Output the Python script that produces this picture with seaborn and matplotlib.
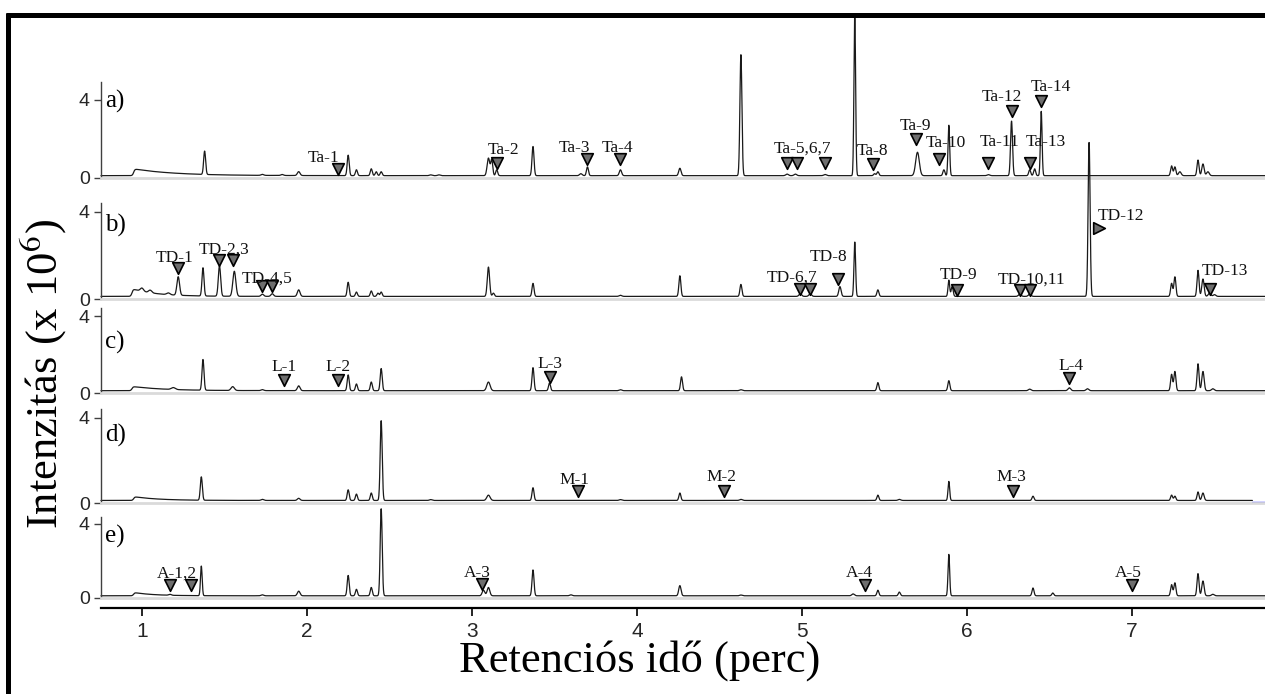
import numpy as np
import pandas as pd
import matplotlib
matplotlib.use("Agg")
import matplotlib.pyplot as plt
from matplotlib.lines import Line2D
import seaborn as sns

# ------------------------------------------------------------------ data
x_ticks = [1, 2, 3, 4, 5, 6, 7]
y_ticks = [0, 4]
panel_letters = ["a)", "b)", "c)", "d)", "e)"]
x_label = "Retenciós idő (perc)"
y_label = r"Intenzitás (x 10$^{6}$)"
baseline_level = 0.12

# panel a) peaks: retention time (min), height (x10^6), width (min)
a_rt = [1.38, 1.73, 1.85, 1.95, 2.25, 2.30, 2.39, 2.42, 2.45, 2.75,
        2.80, 3.10, 3.12, 3.15, 3.37, 3.66, 3.70, 3.90, 4.26, 4.63,
        4.91, 4.96, 5.14, 5.32, 5.44, 5.46, 5.70, 5.86, 5.89, 6.13,
        6.27, 6.38, 6.41, 6.45, 7.24, 7.26, 7.29, 7.40, 7.43, 7.46]
a_h = [1.20, 0.05, 0.05, 0.20, 1.05, 0.30, 0.35, 0.20, 0.20, 0.04,
       0.04, 0.90, 0.80, 0.30, 1.50, 0.10, 0.45, 0.30, 0.38, 6.20,
       0.08, 0.08, 0.06, 8.30, 0.10, 0.20, 1.20, 0.30, 2.60, 0.05,
       2.80, 0.30, 0.35, 3.30, 0.50, 0.45, 0.20, 0.80, 0.60, 0.20]
a_w = [.006, .008, .008, .008, .006, .006, .006, .006, .006, .008,
       .008, .008, .006, .006, .006, .008, .006, .007, .007, .006,
       .008, .008, .008, .005, .006, .006, .011, .006, .005, .008,
       .006, .006, .006, .005, .006, .006, .008, .006, .007, .008]
a_hump = [0.95, 0.35, 0.25]

b_rt = [1.00, 1.05, 1.16, 1.22, 1.37, 1.47, 1.56, 1.73, 1.79, 1.95,
        2.25, 2.30, 2.39, 2.43, 2.45, 3.10, 3.13, 3.37, 3.90, 4.26,
        4.63, 4.99, 5.05, 5.23, 5.32, 5.46, 5.89, 5.91, 6.32, 6.38,
        6.74, 7.24, 7.26, 7.40, 7.43, 7.47, 7.50]
b_h = [0.15, 0.12, 0.08, 0.85, 1.30, 1.40, 1.15, 0.10, 0.12, 0.30,
       0.65, 0.20, 0.25, 0.15, 0.20, 1.35, 0.15, 0.60, 0.05, 0.95,
       0.55, 0.12, 0.12, 0.45, 2.50, 0.30, 0.75, 0.45, 0.10, 0.10,
       7.10, 0.60, 0.90, 1.20, 0.80, 0.15, 0.08]
b_w = [.010, .010, .010, .008, .006, .007, .009, .008, .008, .008,
       .006, .006, .006, .006, .006, .007, .006, .006, .008, .006,
       .006, .008, .008, .007, .005, .006, .005, .006, .008, .008,
       .006, .006, .006, .006, .007, .008, .008]
b_hump = [0.94, 0.35, 0.15]

c_rt = [1.19, 1.37, 1.55, 1.73, 1.95, 2.25, 2.30, 2.39, 2.45, 3.10,
        3.37, 3.47, 3.90, 4.27, 4.63, 5.46, 5.89, 6.38, 6.62, 6.73,
        7.24, 7.26, 7.40, 7.43, 7.49]
c_h = [0.10, 1.60, 0.20, 0.05, 0.25, 0.82, 0.35, 0.45, 1.15, 0.45,
       1.20, 0.40, 0.05, 0.72, 0.05, 0.42, 0.52, 0.08, 0.15, 0.10,
       0.85, 1.00, 1.40, 1.00, 0.10]
c_w = [.012, .006, .010, .008, .008, .006, .006, .006, .006, .010,
       .006, .006, .008, .006, .008, .006, .006, .008, .008, .008,
       .006, .006, .006, .007, .008]
c_hump = [0.94, 0.22, 0.20]

d_rt = [1.36, 1.73, 1.95, 2.25, 2.30, 2.39, 2.45, 2.75, 3.10, 3.37,
        3.90, 4.26, 4.63, 5.46, 5.59, 5.89, 6.40, 7.24, 7.26, 7.40,
        7.43]
d_h = [1.10, 0.05, 0.10, 0.50, 0.30, 0.35, 3.75, 0.04, 0.25, 0.60,
       0.04, 0.35, 0.05, 0.25, 0.05, 0.90, 0.20, 0.25, 0.20, 0.40,
       0.35]
d_w = [.006, .008, .008, .006, .006, .006, .006, .008, .010, .006,
       .008, .006, .008, .006, .008, .005, .006, .006, .006, .006,
       .007]
d_hump = [0.95, 0.18, 0.15]
d_blue_rt = [7.73, 7.806]
d_blue_val = [0.06, 0.06]

e_rt = [1.17, 1.36, 1.73, 1.95, 2.25, 2.30, 2.39, 2.45, 3.07, 3.10,
        3.37, 3.60, 4.26, 4.63, 5.31, 5.46, 5.59, 5.89, 6.40, 6.52,
        7.24, 7.26, 7.40, 7.43, 7.49]
e_h = [0.05, 1.60, 0.05, 0.25, 1.10, 0.35, 0.45, 4.70, 0.30, 0.45,
       1.40, 0.05, 0.55, 0.04, 0.10, 0.30, 0.20, 2.25, 0.42, 0.15,
       0.60, 0.70, 1.20, 0.80, 0.08]
e_w = [.008, .005, .008, .008, .006, .006, .006, .006, .008, .008,
       .006, .008, .007, .008, .008, .006, .006, .005, .006, .006,
       .006, .006, .006, .007, .008]
e_hump = [0.95, 0.18, 0.12]

# annotations: labels (text position) and triangle markers
a_lab = ["Ta-1", "Ta-2", "Ta-3", "Ta-4", "Ta-5,6,7", "Ta-8", "Ta-9",
         "Ta-10", "Ta-11", "Ta-12", "Ta-13", "Ta-14"]
a_lab_rt = [2.10, 3.19, 3.62, 3.88, 5.00, 5.43, 5.69, 5.87, 6.20, 6.21, 6.48, 6.51]
a_lab_y = [1.04, 1.45, 1.53, 1.53, 1.53, 1.40, 2.65, 1.78, 1.83, 4.16, 1.83, 4.66]
a_tri_rt = [2.19, 3.15, 3.70, 3.90, 4.91, 4.97, 5.14, 5.43, 5.69, 5.83, 6.13, 6.27, 6.38, 6.45]
a_tri_y = [0.46, 0.76, 1.00, 1.00, 0.76, 0.76, 0.76, 0.70, 1.98, 0.99, 0.79, 3.46, 0.76, 3.97]

b_lab = ["TD-1", "TD-2,3", "TD-4,5", "TD-6,7", "TD-8", "TD-9", "TD-10,11", "TD-12", "TD-13"]
b_lab_rt = [1.20, 1.50, 1.76, 4.94, 5.16, 5.95, 6.39, 6.93, 7.56]
b_lab_y = [1.87, 2.26, 0.93, 0.97, 1.92, 1.12, 0.89, 3.80, 1.28]
b_tri_rt = [1.22, 1.47, 1.55, 1.73, 1.79, 4.99, 5.05, 5.22, 5.94, 6.32, 6.38, 7.47]
b_tri_y = [1.42, 1.80, 1.80, 0.60, 0.60, 0.45, 0.45, 0.93, 0.41, 0.41, 0.41, 0.48]
b_rtri_rt = [6.80]
b_rtri_y = [3.25]

c_lab = ["L-1", "L-2", "L-3", "L-4"]
c_lab_rt = [1.86, 2.19, 3.47, 6.63]
c_lab_y = [1.37, 1.37, 1.50, 1.42]
c_tri_rt = [1.86, 2.19, 3.47, 6.62]
c_tri_y = [0.69, 0.65, 0.85, 0.77]

d_lab = ["M-1", "M-2", "M-3"]
d_lab_rt = [3.62, 4.51, 6.27]
d_lab_y = [1.09, 1.24, 1.24]
d_tri_rt = [3.64, 4.53, 6.28]
d_tri_y = [0.57, 0.57, 0.57]

e_lab = ["A-1,2", "A-3", "A-4", "A-5"]
e_lab_rt = [1.21, 3.03, 5.35, 6.98]
e_lab_y = [1.30, 1.36, 1.36, 1.36]
e_tri_rt = [1.17, 1.30, 3.06, 5.38, 7.00]
e_tri_y = [0.72, 0.72, 0.77, 0.72, 0.72]

# ------------------------------------------------------------------ style
sns.set_theme(style="white")
plt.rcParams["font.family"] = ["Liberation Serif", "DejaVu Serif"]
plt.rcParams["mathtext.fontset"] = "stix"

W, H = 1265, 694
fig = plt.figure(figsize=(W / 100, H / 100), dpi=100)
fig.patch.set_facecolor("white")


def fx(px):
    return px / W


def fy(py):
    return 1 - py / H


xlim = (0.752, 7.806)
left_px, right_px = 101, 1265
zero_px = [178, 299, 393, 503, 598]
four_px = [100, 212, 316, 418, 524]
top_val = [4.9, 4.4, 4.4, 4.4, 4.4]
letter_y = [3.9, 3.4, 2.6, 3.2, 3.3]

t = np.linspace(xlim[0], xlim[1], 6000)


def build_trace(rt, h, w, hump):
    y = np.full_like(t, baseline_level)
    for r, hh, ww in zip(rt, h, w):
        y += hh * np.exp(-0.5 * ((t - r) / ww) ** 2)
    t0, hh, tau = hump
    rise = 1.0 / (1.0 + np.exp(-(t - t0) / 0.004))
    y += hh * rise * np.exp(-np.clip(t - t0, 0, None) / tau)
    return y


panels = [
    (a_rt, a_h, a_w, a_hump, a_lab, a_lab_rt, a_lab_y, a_tri_rt, a_tri_y),
    (b_rt, b_h, b_w, b_hump, b_lab, b_lab_rt, b_lab_y, b_tri_rt, b_tri_y),
    (c_rt, c_h, c_w, c_hump, c_lab, c_lab_rt, c_lab_y, c_tri_rt, c_tri_y),
    (d_rt, d_h, d_w, d_hump, d_lab, d_lab_rt, d_lab_y, d_tri_rt, d_tri_y),
    (e_rt, e_h, e_w, e_hump, e_lab, e_lab_rt, e_lab_y, e_tri_rt, e_tri_y),
]

tick_font = {"family": ["Liberation Sans", "DejaVu Sans"], "size": 14}

for i, (rt, h, w, hump, labs, lrt, ly, trt, ty) in enumerate(panels):
    ppu = (zero_px[i] - four_px[i]) / 4.0
    height_px = top_val[i] * ppu
    ax = fig.add_axes([fx(left_px), fy(zero_px[i]), fx(right_px) - fx(left_px), height_px / H])
    ax.patch.set_alpha(0)
    ax.set_xlim(xlim)
    ax.set_ylim(0, top_val[i])

    y = build_trace(rt, h, w, hump)
    if i == 3:
        mask = t <= d_blue_rt[0]
    else:
        mask = np.ones_like(t, dtype=bool)
    df = pd.DataFrame({"rt": t[mask], "val": y[mask]})
    sns.lineplot(data=df, x="rt", y="val", ax=ax, color="#1a1a1a", lw=0.9,
                 estimator=None, sort=False)
    if i == 3:
        sns.lineplot(x=d_blue_rt, y=d_blue_val, ax=ax, color="#1f1fff", lw=1.0,
                     estimator=None, sort=False)
    for ln in ax.lines:
        ln.set_clip_on(False)

    sns.scatterplot(x=trt, y=ty, ax=ax, marker="v", s=70, color="#6e6e6e",
                    edgecolor="black", linewidth=1.2, zorder=5, clip_on=False)
    if i == 1:
        sns.scatterplot(x=b_rtri_rt, y=b_rtri_y, ax=ax, marker=">", s=70,
                        color="#6e6e6e", edgecolor="black", linewidth=1.2,
                        zorder=5, clip_on=False)
    for lab, xr, yv in zip(labs, lrt, ly):
        ax.text(xr, yv, lab, ha="center", va="center", fontsize=12.5,
                color="#111111", zorder=6, clip_on=False)

    ax.text(0.777, letter_y[i], panel_letters[i], ha="left", va="center",
            fontsize=18, color="black")

    for s in ["top", "right"]:
        ax.spines[s].set_visible(False)
    ax.spines["left"].set_color("#404040")
    ax.spines["left"].set_linewidth(1.0)
    ax.spines["bottom"].set_color("#dadada")
    ax.spines["bottom"].set_linewidth(2.0)
    ax.set_yticks(y_ticks)
    ax.set_yticklabels([str(v) for v in y_ticks], fontdict=tick_font)
    ax.tick_params(axis="y", length=5, width=1, color="#404040", pad=3, left=True)
    ax.set_xticks([])
    ax.set_xlabel("")
    ax.set_ylabel("")

# x axis
axx = fig.add_axes([fx(left_px), fy(608), fx(right_px) - fx(left_px), 0.0005])
axx.patch.set_alpha(0)
axx.set_xlim(xlim)
axx.set_yticks([])
for s in ["top", "right", "left"]:
    axx.spines[s].set_visible(False)
axx.spines["bottom"].set_color("black")
axx.spines["bottom"].set_linewidth(1.6)
axx.set_xticks(x_ticks)
axx.set_xticklabels([str(v) for v in x_ticks], fontdict={"family": ["Liberation Sans", "DejaVu Sans"], "size": 15})
axx.tick_params(axis="x", length=6, width=1.2, color="black", pad=4, bottom=True)

fig.text(fx(640), fy(661), x_label, ha="center", va="center", fontsize=32, color="black")
fig.text(fx(44), fy(374), y_label, ha="center", va="center", rotation=90,
         fontsize=32, color="black")

# frame lines (top and left)
fig.add_artist(Line2D([fx(6), fx(1265)], [fy(15), fy(15)], transform=fig.transFigure,
                      color="black", lw=3.6, solid_capstyle="butt"))
fig.add_artist(Line2D([fx(8), fx(8)], [fy(13), fy(694)], transform=fig.transFigure,
                      color="black", lw=3.6, solid_capstyle="butt"))

fig.savefig("out.png", dpi=100, facecolor="white")
